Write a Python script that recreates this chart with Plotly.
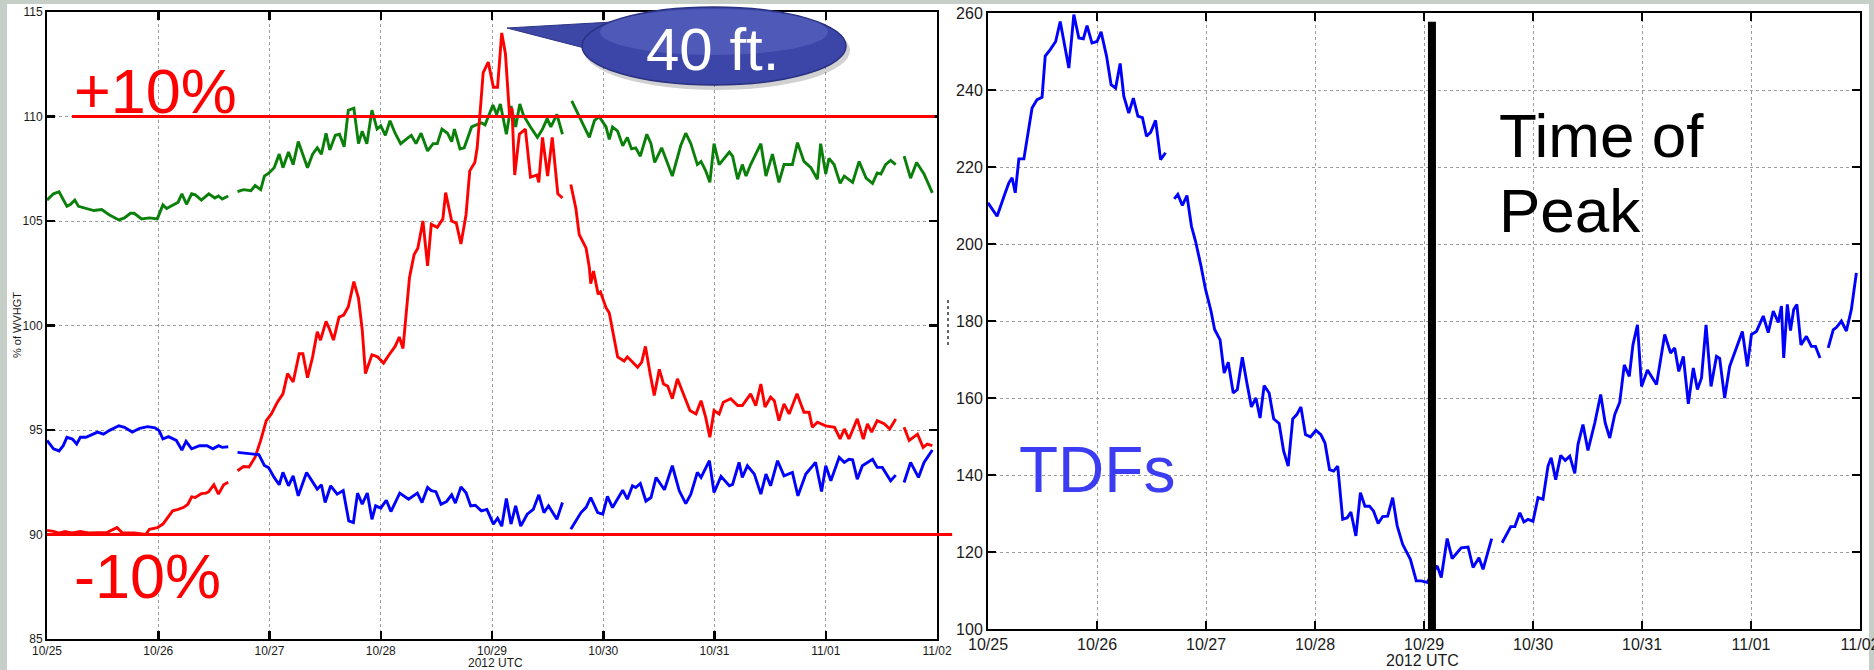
import pandas as pd
import plotly.graph_objects as go

W, H = 1874, 670
START = pd.Timestamp("2012-10-25 00:00")

# ---------------- data: hours since 2012-10-25 00 UTC (None = gap) ----------------
green_hours = [0, 1.4, 2.6, 4.3, 5.1, 6.0, 6.8, 8.4, 10.1, 11.8, 13.4, 15.5, 16.7, 18.0, 18.8, 20.4, 22.1, 23.8, 24.2, 25.0,
               25.8, 27.5, 28.3, 29.1, 30.1, 31.2, 32.0, 33.3, 34.9, 36.2, 37.0, 37.8, 39.1, None,
               41.1, 42.4, 44.0, 44.9, 46.1, 46.9, 47.9, 49.0, 50.1, 50.9, 52.1, 53.1, 54.2, 55.2, 56.2,
               57.3, 58.3, 59.2, 60.2, 61.0, 62.2, 63.1, 64.1, 65.0, 66.2, 67.2, 68.0, 69.0, 70.1, 71.2,
               72.0, 73.0, 74.0, 75.1, 76.3, 78.0, 78.6, 79.6, 80.7, 82.1, 83.3, 84.2, 85.2, 86.4, 87.3,
               87.9, 89.1, 90.0, 91.6, 93.7, 94.5, 96.2, 97.0, 97.8, 99.1, 100.1, 101.1, 102.0, 102.8, 104.3,
               105.8, 106.9, 107.9, 108.7, 110.0, 111.2, None,
               113.2, 114.8, 117.0, 118.1, 119.1, 120.6, 121.3, 122.0, 123.1, 124.2, 125.2, 126.1, 127.0, 128.0, 129.4,
               130.3, 131.1, 132.6, 133.5, 134.9, 136.7, 137.8, 138.9, 140.3, 141.1, 142.1, 143.0, 143.9, 145.0, 147.2,
               147.9, 149.0, 150.0, 150.8, 151.8, 154.0, 155.1, 156.5, 157.9, 159.0, 160.8, 161.9, 163.3, 164.8, 166.2,
               166.9, 168.0, 168.7, 169.8, 171.1, 172.0, 173.8, 175.2, 176.7, 178.1, 179.1, 179.9, 180.9, 182.0, 183.1, None,
               184.9, 186.3, 187.6, 189.2, 191.0]
green_values = [106.0, 106.3, 106.4, 105.7, 105.8, 106.0, 105.7, 105.6, 105.5, 105.55, 105.3, 105.05, 105.15, 105.37, 105.37,
                105.1, 105.15, 105.1, 105.35, 105.77, 105.6, 105.8, 105.9, 106.3, 105.8, 106.3, 106.25, 106.0, 106.3, 106.1,
                106.2, 106.05, 106.2, None,
                106.4, 106.5, 106.45, 106.7, 106.5, 107.15, 107.3, 107.55, 108.2, 107.55, 108.3, 107.7, 108.8, 108.2, 107.55,
                108.2, 108.5, 108.2, 109.2, 108.4, 109.1, 109.15, 108.55, 110.3, 110.4, 108.7, 109.3, 108.7, 110.3, 109.4,
                109.55, 109.1, 109.8, 109.2, 108.7, 109.0, 109.1, 108.7, 109.2, 108.35, 108.7, 108.7, 109.4, 109.2, 108.8,
                109.4, 108.45, 108.5, 109.5, 109.7, 109.6, 110.55, 110.1, 110.6, 109.15, 110.5, 109.5, 110.6, 110.05, 109.5,
                109.0, 109.4, 109.9, 109.5, 110.1, 109.15, None,
                110.75, 110.0, 109.0, 109.8, 110.0, 109.5, 108.9, 109.5, 109.3, 108.6, 109.0, 108.45, 108.5, 108.1, 109.15,
                108.7, 107.8, 108.5, 108.0, 107.15, 108.6, 109.2, 108.7, 107.7, 107.85, 107.4, 106.85, 108.7, 107.7, 108.3,
                108.1, 107.0, 107.7, 107.15, 107.7, 108.7, 107.15, 108.2, 106.85, 107.7, 107.7, 108.75, 107.85, 107.55, 107.0,
                108.7, 107.25, 108.0, 107.7, 106.8, 107.15, 106.85, 107.85, 107.05, 106.8, 107.3, 107.25, 107.7, 107.9, 107.7, None,
                108.1, 107.05, 107.8, 107.25, 106.35]

red_hours = [0, 1.4, 2.6, 3.9, 5.5, 7.2, 8.9, 10.5, 13.0, 15.1, 16.3, 18.8, 21.3, 22.1, 23.8, 25.0, 25.8, 27.1, 28.3, 29.5,
             30.4, 31.2, 32.0, 33.3, 34.3, 34.9, 36.0, 37.0, 38.1, 39.1, None,
             41.1, 42.4, 43.6, 44.9, 46.1, 47.3, 48.4, 49.7, 50.9, 51.9, 53.1, 54.4, 55.2, 56.2, 57.3, 58.3, 59.0, 60.2, 61.0,
             61.8, 63.0, 64.0, 65.0, 66.2, 67.2, 68.0, 68.7, 70.1, 71.3, 72.6, 73.8, 75.1, 76.0, 76.8, 78.2, 79.2, 80.0, 81.1,
             82.1, 82.9, 84.2, 85.4, 86.0, 87.3, 88.3, 89.3, 90.4, 91.2, 92.3, 92.8, 93.4, 94.1, 95.2, 96.3, 97.2, 98.1, 98.9,
             99.8, 100.3, 100.9, 101.9, 103.2, 104.3, 105.7, 106.1, 106.9, 108.0, 109.0, 110.2, 111.2, None,
             113.0, 114.1, 114.8, 115.5, 116.3, 117.0, 117.3, 117.9, 118.9, 119.4, 120.6, 121.3, 122.0, 122.5, 123.1, 124.5,
             125.2, 126.3, 127.4, 128.3, 129.1, 130.1, 131.0, 132.1, 133.0, 133.9, 134.9, 136.0, 137.3, 138.7, 140.0, 141.1,
             142.1, 143.0, 143.9, 145.0, 145.9, 147.5, 149.0, 150.0, 151.8, 152.9, 154.0, 154.9, 156.1, 156.9, 157.9, 159.0,
             160.1, 161.8, 163.3, 164.4, 165.1, 166.2, 168.0, 169.9, 171.1, 172.0, 173.0, 174.8, 176.1, 177.0, 177.9, 179.1,
             180.6, 181.8, 183.1, None,
             184.9, 186.0, 187.8, 189.0, 189.9, 191.0]
red_values = [90.2, 90.15, 90.07, 90.15, 90.07, 90.15, 90.07, 90.07, 90.1, 90.33, 90.07, 90.07, 90.0, 90.25, 90.33, 90.5,
              90.73, 91.13, 91.2, 91.3, 91.45, 91.8, 91.77, 91.96, 91.98, 92.05, 92.38, 91.93, 92.38, 92.5, None,
              93.05, 93.25, 93.23, 93.7, 94.5, 95.45, 95.77, 96.33, 96.73, 97.7, 97.3, 98.65, 98.65, 97.5, 98.5, 99.7, 99.3,
              100.2, 99.8, 99.3, 100.4, 100.5, 100.9, 102.1, 101.3, 99.8, 97.7, 98.6, 98.5, 98.2, 98.6, 99.0, 99.45, 98.9,
              102.3, 103.4, 103.7, 105.0, 102.85, 104.84, 104.7, 105.1, 106.36, 105.0, 104.9, 103.9, 105.3, 107.4, 107.8,
              108.5, 110.1, 112.1, 112.6, 111.4, 111.4, 114.0, 113.0, 110.0, 110.4, 107.2, 109.15, 109.4, 107.1, 107.2,
              106.85, 109.0, 107.15, 109.0, 106.3, 106.1, None,
              106.75, 105.6, 104.36, 104.05, 103.7, 102.77, 102.0, 102.6, 101.5, 101.6, 100.85, 100.6, 99.8, 99.25, 98.5,
              98.3, 98.5, 98.25, 98.0, 98.25, 99.0, 97.7, 96.65, 97.9, 97.2, 97.1, 96.5, 97.45, 96.73, 95.93, 95.77, 96.4,
              95.6, 94.65, 95.93, 95.77, 96.33, 96.5, 96.17, 96.17, 96.73, 96.17, 97.2, 96.1, 96.57, 96.4, 95.45, 96.25,
              95.77, 96.73, 95.85, 95.85, 95.13, 95.37, 95.2, 95.13, 94.57, 95.05, 94.57, 95.53, 94.57, 95.29, 94.9, 95.45,
              95.3, 95.05, 95.53, None,
              95.13, 94.5, 94.8, 94.17, 94.33, 94.25]

blue_hours = [0, 1.4, 2.6, 3.5, 4.3, 5.5, 6.4, 7.2, 8.4, 9.7, 10.9, 12.2, 13.4, 15.5, 16.7, 18.4, 20.0, 21.7, 23.3, 24.2,
              25.0, 26.2, 27.9, 29.1, 30.0, 31.2, 32.9, 34.5, 35.8, 37.0, 37.8, 39.1, None,
              41.1, 43.6, 45.7, 46.9, 47.8, 49.0, 50.1, 50.9, 52.1, 53.1, 54.2, 56.0, 57.3, 58.3, 59.2, 60.0, 61.2, 62.6,
              63.9, 65.1, 66.1, 67.0, 68.0, 69.1, 70.1, 70.9, 72.0, 73.2, 74.2, 76.1, 78.0, 79.9, 80.9, 82.1, 82.9, 83.9,
              85.0, 86.2, 87.3, 88.1, 89.3, 90.4, 91.4, 92.4, 93.7, 94.9, 96.3, 97.2, 98.1, 99.1, 100.1, 101.1, 102.2,
              103.6, 104.9, 106.1, 107.2, 108.2, 110.0, 111.2, None,
              113.0, 115.2, 116.3, 117.3, 118.8, 119.9, 120.9, 122.0, 124.2, 125.2, 126.3, 127.0, 128.0, 129.2, 130.3,
              131.4, 133.2, 134.9, 136.4, 137.8, 138.9, 140.3, 141.1, 142.9, 143.9, 145.4, 147.2, 147.9, 149.3, 150.0,
              151.1, 152.6, 154.0, 155.1, 156.1, 157.6, 159.0, 160.8, 162.0, 163.7, 165.8, 167.1, 168.0, 169.1, 170.9,
              172.0, 173.0, 173.8, 174.8, 175.9, 178.1, 179.1, 180.2, 182.0, 183.1, None,
              184.9, 186.3, 188.0, 189.2, 191.0]
blue_values = [94.5, 94.1, 94.0, 94.25, 94.65, 94.57, 94.33, 94.65, 94.65, 94.8, 94.9, 94.8, 94.97, 95.2, 95.13, 94.9,
               95.08, 95.16, 95.1, 94.97, 94.57, 94.68, 94.5, 94.04, 94.46, 94.1, 94.25, 94.25, 94.1, 94.25, 94.17, 94.2, None,
               93.93, 93.88, 93.82, 93.3, 93.2, 92.73, 92.38, 92.97, 92.33, 92.8, 91.85, 92.97, 92.5, 92.17, 92.38, 91.53,
               92.33, 91.93, 92.1, 90.65, 90.57, 91.98, 91.45, 91.98, 90.73, 91.37, 91.26, 91.64, 91.1, 91.98, 91.69, 91.98,
               91.53, 92.25, 92.1, 92.05, 91.45, 91.58, 91.9, 91.5, 92.28, 92.0, 91.37, 91.4, 91.13, 91.2, 90.5, 90.78,
               90.4, 91.72, 90.5, 91.37, 90.4, 90.97, 91.2, 91.9, 91.05, 91.37, 90.73, 91.53, None,
               90.25, 91.05, 91.3, 91.77, 91.05, 90.97, 91.82, 91.29, 92.12, 91.69, 92.33, 92.25, 92.44, 91.6, 91.77,
               92.73, 92.14, 93.29, 92.09, 91.48, 91.93, 92.97, 92.73, 93.53, 92.01, 92.78, 92.33, 92.4, 93.45, 92.73,
               93.29, 92.89, 91.93, 92.89, 92.33, 93.53, 92.81, 92.97, 91.85, 92.89, 93.45, 92.06, 93.29, 92.57, 93.69,
               93.45, 93.6, 93.57, 92.65, 93.29, 93.6, 93.21, 93.21, 92.57, 92.84, None,
               92.49, 93.45, 92.73, 93.45, 94.04]

tdf_hours = [0, 2.0, 3.8, 4.6, 5.3, 6.0, 6.8, 7.9, 9.7, 10.8, 11.9, 12.6, 13.7, 14.9, 15.9, 17.8, 18.9, 20.0, 21.0, 21.8,
             22.9, 24.0, 24.9, 26.1, 27.1, 28.1, 29.1, 29.9, 31.0, 32.0, 33.0, 34.0, 34.9, 35.8, 36.9, 38.0, 39.1, None,
             41.0, 41.8, 42.8, 43.8, 44.8, 45.7, 46.9, 47.9, 49.1, 49.9, 51.1, 52.0, 52.9, 54.0, 54.9, 56.0, 57.0, 58.0,
             59.0, 59.9, 60.8, 61.9, 62.9, 64.1, 65.1, 66.1, 67.1, 68.0, 68.9, 69.9, 71.0, 72.2, 73.3, 74.2, 75.2, 76.1,
             77.0, 78.1, 79.1, 79.9, 81.0, 82.0, 83.0, 84.0, 84.9, 85.9, 86.9, 88.0, 89.1, 90.1, 91.3, 93.0, 94.3, 95.4,
             96.7, 98.9, 99.8, 101.1, 102.2, 104.2, 105.7, 106.8, 108.1, 109.0, 110.9, None,
             113.2, 115.1, 116.0, 117.1, 118.0, 118.9, 120.0, 121.1, 122.2, 123.3, 124.0, 125.0, 126.1, 127.1, 128.1,
             129.2, 129.9, 131.0, 132.1, 133.6, 134.9, 135.9, 136.9, 138.0, 139.1, 140.1, 141.2, 142.0, 143.0, 143.9,
             145.2, 147.2, 149.0, 150.3, 151.2, 152.1, 153.1, 154.2, 155.3, 156.2, 157.1, 158.1, 159.2, 160.4, 161.1,
             162.2, 163.3, 164.4, 166.1, 167.2, 168.1, 169.2, 170.7, 171.8, 172.9, 174.0, 174.7, 175.2, 176.0, 176.7,
             177.4, 178.1, 179.0, 180.2, 181.3, 182.2, 183.2, None,
             185.0, 186.1, 186.8, 187.9, 189.0, 190.1, 191.2]
tdf_values = [210.7, 207.2, 213.3, 215.9, 217.2, 213.3, 222.1, 222.1, 235.3, 237.5, 238.1, 248.8, 250.5, 252.6, 257.8,
              245.7, 259.6, 253.5, 253.3, 256.7, 252.2, 252.6, 255.1, 248.8, 241.4, 240.5, 246.9, 238.4, 234.0, 237.9,
              233.2, 232.8, 228.0, 229.0, 232.1, 221.9, 223.7, None,
              211.7, 212.9, 210.0, 212.6, 204.6, 200.7, 194.3, 188.2, 182.6, 177.8, 175.1, 166.5, 169.3, 161.3, 162.2,
              170.6, 163.9, 157.7, 160.0, 154.8, 163.2, 161.3, 154.6, 153.4, 146.2, 142.3, 154.6, 155.7, 157.7, 150.5,
              149.9, 151.6, 150.5, 148.3, 141.4, 141.0, 142.3, 128.5, 128.9, 130.4, 124.2, 135.4, 131.9, 131.9, 130.6,
              127.4, 129.2, 129.3, 134.1, 126.8, 122.0, 118.1, 112.5, 112.5, 112.1, 116.4, 113.4, 123.5, 118.3, 121.1,
              121.3, 116.0, 118.5, 115.5, 123.5, None,
              122.4, 126.6, 126.6, 130.2, 127.8, 128.5, 128.0, 134.1, 133.7, 142.3, 144.5, 138.8, 145.1, 143.8, 144.9,
              140.4, 147.9, 153.1, 146.4, 153.5, 160.9, 153.5, 149.6, 155.7, 158.9, 168.6, 165.6, 173.8, 179.0, 163.0,
              167.3, 163.5, 176.5, 171.7, 173.0, 166.9, 170.8, 158.5, 167.8, 162.2, 165.2, 179.0, 163.0, 170.8, 170.3,
              160.0, 168.2, 171.7, 177.3, 168.2, 176.5, 177.3, 181.3, 177.0, 182.6, 179.6, 183.9, 170.4, 184.3, 177.5,
              183.0, 184.3, 173.8, 176.0, 173.4, 173.4, 170.4, None,
              173.0, 177.7, 178.3, 180.0, 177.4, 183.0, 192.5]

x_range = ["2012-10-25 00:00", "2012-11-02 00:00"]
left_yticks = [85, 90, 95, 100, 105, 110, 115]
right_yticks = [100, 120, 140, 160, 180, 200, 220, 240, 260]
plus10_level, minus10_level = 110, 90
plus10_span = ["2012-10-25 05:24", "2012-11-01 23:30"]
peak_time = "2012-10-29 01:45"
peak_line_top = 257.7


def to_time(hours):
    return [START + pd.Timedelta(hours=h) if h is not None else None for h in hours]


FONT = "Liberation Sans, Arial, sans-serif"
fig = go.Figure()

for hrs, vals, col in [(green_hours, green_values, "#0a800a"),
                       (red_hours, red_values, "#ff0000"),
                       (blue_hours, blue_values, "#0000ff")]:
    assert len(hrs) == len(vals)
    fig.add_trace(go.Scatter(x=to_time(hrs), y=vals, mode="lines", xaxis="x", yaxis="y",
                             line=dict(color=col, width=2.9), connectgaps=False,
                             showlegend=False, hoverinfo="skip"))
assert len(tdf_hours) == len(tdf_values)
fig.add_trace(go.Scatter(x=to_time(tdf_hours), y=tdf_values, mode="lines", xaxis="x2", yaxis="y2",
                         line=dict(color="#0000ff", width=2.9), connectgaps=False,
                         showlegend=False, hoverinfo="skip"))


def px(x):
    return x / W


def py(y):
    return 1 - y / H


axis_common = dict(showline=True, linecolor="black", linewidth=2, mirror="allticks",
                   ticks="inside", ticklen=8, tickwidth=2.5, tickcolor="black",
                   showgrid=True, gridcolor="#9c9c9c", griddash="dot", gridwidth=1,
                   zeroline=False, fixedrange=True, automargin=False, ticklabeloverflow="allow")

fig.update_layout(
    width=W, height=H, margin=dict(l=0, r=0, t=0, b=0, autoexpand=False),
    paper_bgcolor="white", plot_bgcolor="white",
    xaxis=dict(axis_common, type="date", range=x_range, domain=[px(47), px(937)], anchor="y",
               tick0=x_range[0], dtick=86400000, tickformat="%m/%d",
               tickfont=dict(family=FONT, size=12, color="#1a1a1a")),
    yaxis=dict(axis_common, range=[85, 115], domain=[py(639), py(12)], anchor="x",
               tickvals=left_yticks, tickfont=dict(family=FONT, size=12, color="#1a1a1a")),
    xaxis2=dict(axis_common, type="date", range=x_range, domain=[px(988), px(1860)], anchor="y2",
                tick0=x_range[0], dtick=86400000, tickformat="%m/%d",
                tickfont=dict(family=FONT, size=16, color="#1a1a1a")),
    yaxis2=dict(axis_common, range=[100, 260], domain=[py(629), py(13)], anchor="x2",
                tickvals=right_yticks, tickfont=dict(family=FONT, size=16, color="#1a1a1a")),
)

shapes = []
# slide background strips
bg = "#c6cec8"
shapes.append(dict(type="rect", xref="paper", yref="paper", x0=0, x1=px(7), y0=0, y1=1,
                   fillcolor=bg, line=dict(width=0), layer="below"))
shapes.append(dict(type="rect", xref="paper", yref="paper", x0=0, x1=1, y0=py(4), y1=1,
                   fillcolor=bg, line=dict(width=0), layer="below"))
shapes.append(dict(type="rect", xref="paper", yref="paper", x0=px(1869), x1=1, y0=0, y1=1,
                   fillcolor=bg, line=dict(width=0), layer="below"))
# +/-10% reference lines
shapes.append(dict(type="line", xref="x", yref="y", x0=plus10_span[0], x1=plus10_span[1],
                   y0=plus10_level, y1=plus10_level, line=dict(color="#ff0000", width=3.2)))
shapes.append(dict(type="line", xref="x domain", yref="y", x0=0, x1=1.017,
                   y0=minus10_level, y1=minus10_level, line=dict(color="#ff0000", width=3.2)))
# time of peak line
shapes.append(dict(type="line", xref="x2", yref="y2", x0=peak_time, x1=peak_time,
                   y0=100, y1=peak_line_top, line=dict(color="black", width=8)))
# clipped ylabel remnant of right panel
shapes.append(dict(type="line", xref="paper", yref="paper", x0=px(948), x1=px(948), y0=py(345), y1=py(298),
                   line=dict(color="#333", width=1.5, dash="dot")))
# callout balloon: shadow, tail, body, highlight
shapes.append(dict(type="circle", xref="paper", yref="paper", x0=px(584), x1=px(850), y0=py(90), y1=py(11),
                   fillcolor="rgba(0,0,0,0.18)", line=dict(width=0)))
shapes.append(dict(type="path", xref="paper", yref="paper",
                   path=f"M {px(507)},{py(28)} L {px(612)},{py(22)} L {px(600)},{py(52)} Z",
                   fillcolor="#3d47a6", line=dict(color="#2c3486", width=1)))
shapes.append(dict(type="circle", xref="paper", yref="paper", x0=px(582), x1=px(846), y0=py(85), y1=py(7),
                   fillcolor="#3b46a8", line=dict(color="#2a3180", width=1.5)))
shapes.append(dict(type="circle", xref="paper", yref="paper", x0=px(600), x1=px(828), y0=py(55), y1=py(9),
                   fillcolor="rgba(140,150,230,0.25)", line=dict(width=0)))
fig.update_layout(shapes=shapes)

ann = []
ann.append(dict(text="+10%", x=px(72), y=py(91), xref="paper", yref="paper", xanchor="left", yanchor="middle",
                showarrow=False, font=dict(family=FONT, size=63, color="#ff0000")))
ann.append(dict(text="-10%", x=px(72), y=py(576), xref="paper", yref="paper", xanchor="left", yanchor="middle",
                showarrow=False, font=dict(family=FONT, size=63, color="#ff0000")))
ann.append(dict(text="40 ft.", x=px(712), y=py(50), xref="paper", yref="paper", xanchor="center", yanchor="middle",
                showarrow=False, font=dict(family=FONT, size=60, color="white")))
ann.append(dict(text="TDFs", x=px(1017), y=py(470), xref="paper", yref="paper", xanchor="left", yanchor="middle",
                showarrow=False, font=dict(family=FONT, size=64, color="#3c3cf2")))
ann.append(dict(text="Time of", x=px(1497), y=py(135), xref="paper", yref="paper", xanchor="left", yanchor="middle",
                showarrow=False, font=dict(family=FONT, size=62, color="black")))
ann.append(dict(text="Peak", x=px(1497), y=py(211), xref="paper", yref="paper", xanchor="left", yanchor="middle",
                showarrow=False, font=dict(family=FONT, size=62, color="black")))
ann.append(dict(text="2012 UTC", x=px(495), y=py(663), xref="paper", yref="paper", xanchor="center", yanchor="middle",
                showarrow=False, font=dict(family=FONT, size=12, color="#1a1a1a")))
ann.append(dict(text="2012 UTC", x=px(1422), y=py(660), xref="paper", yref="paper", xanchor="center", yanchor="middle",
                showarrow=False, font=dict(family=FONT, size=16, color="#1a1a1a")))
ann.append(dict(text="% of WVHGT", x=px(17), y=py(325), xref="paper", yref="paper", xanchor="center", yanchor="middle",
                textangle=-90, showarrow=False, font=dict(family=FONT, size=11, color="#1a1a1a")))
fig.update_layout(annotations=ann)

fig.write_html("out.html", config={"displayModeBar": False, "staticPlot": True},
               post_script="document.body.style.margin='0px';document.body.style.overflow='hidden';")
